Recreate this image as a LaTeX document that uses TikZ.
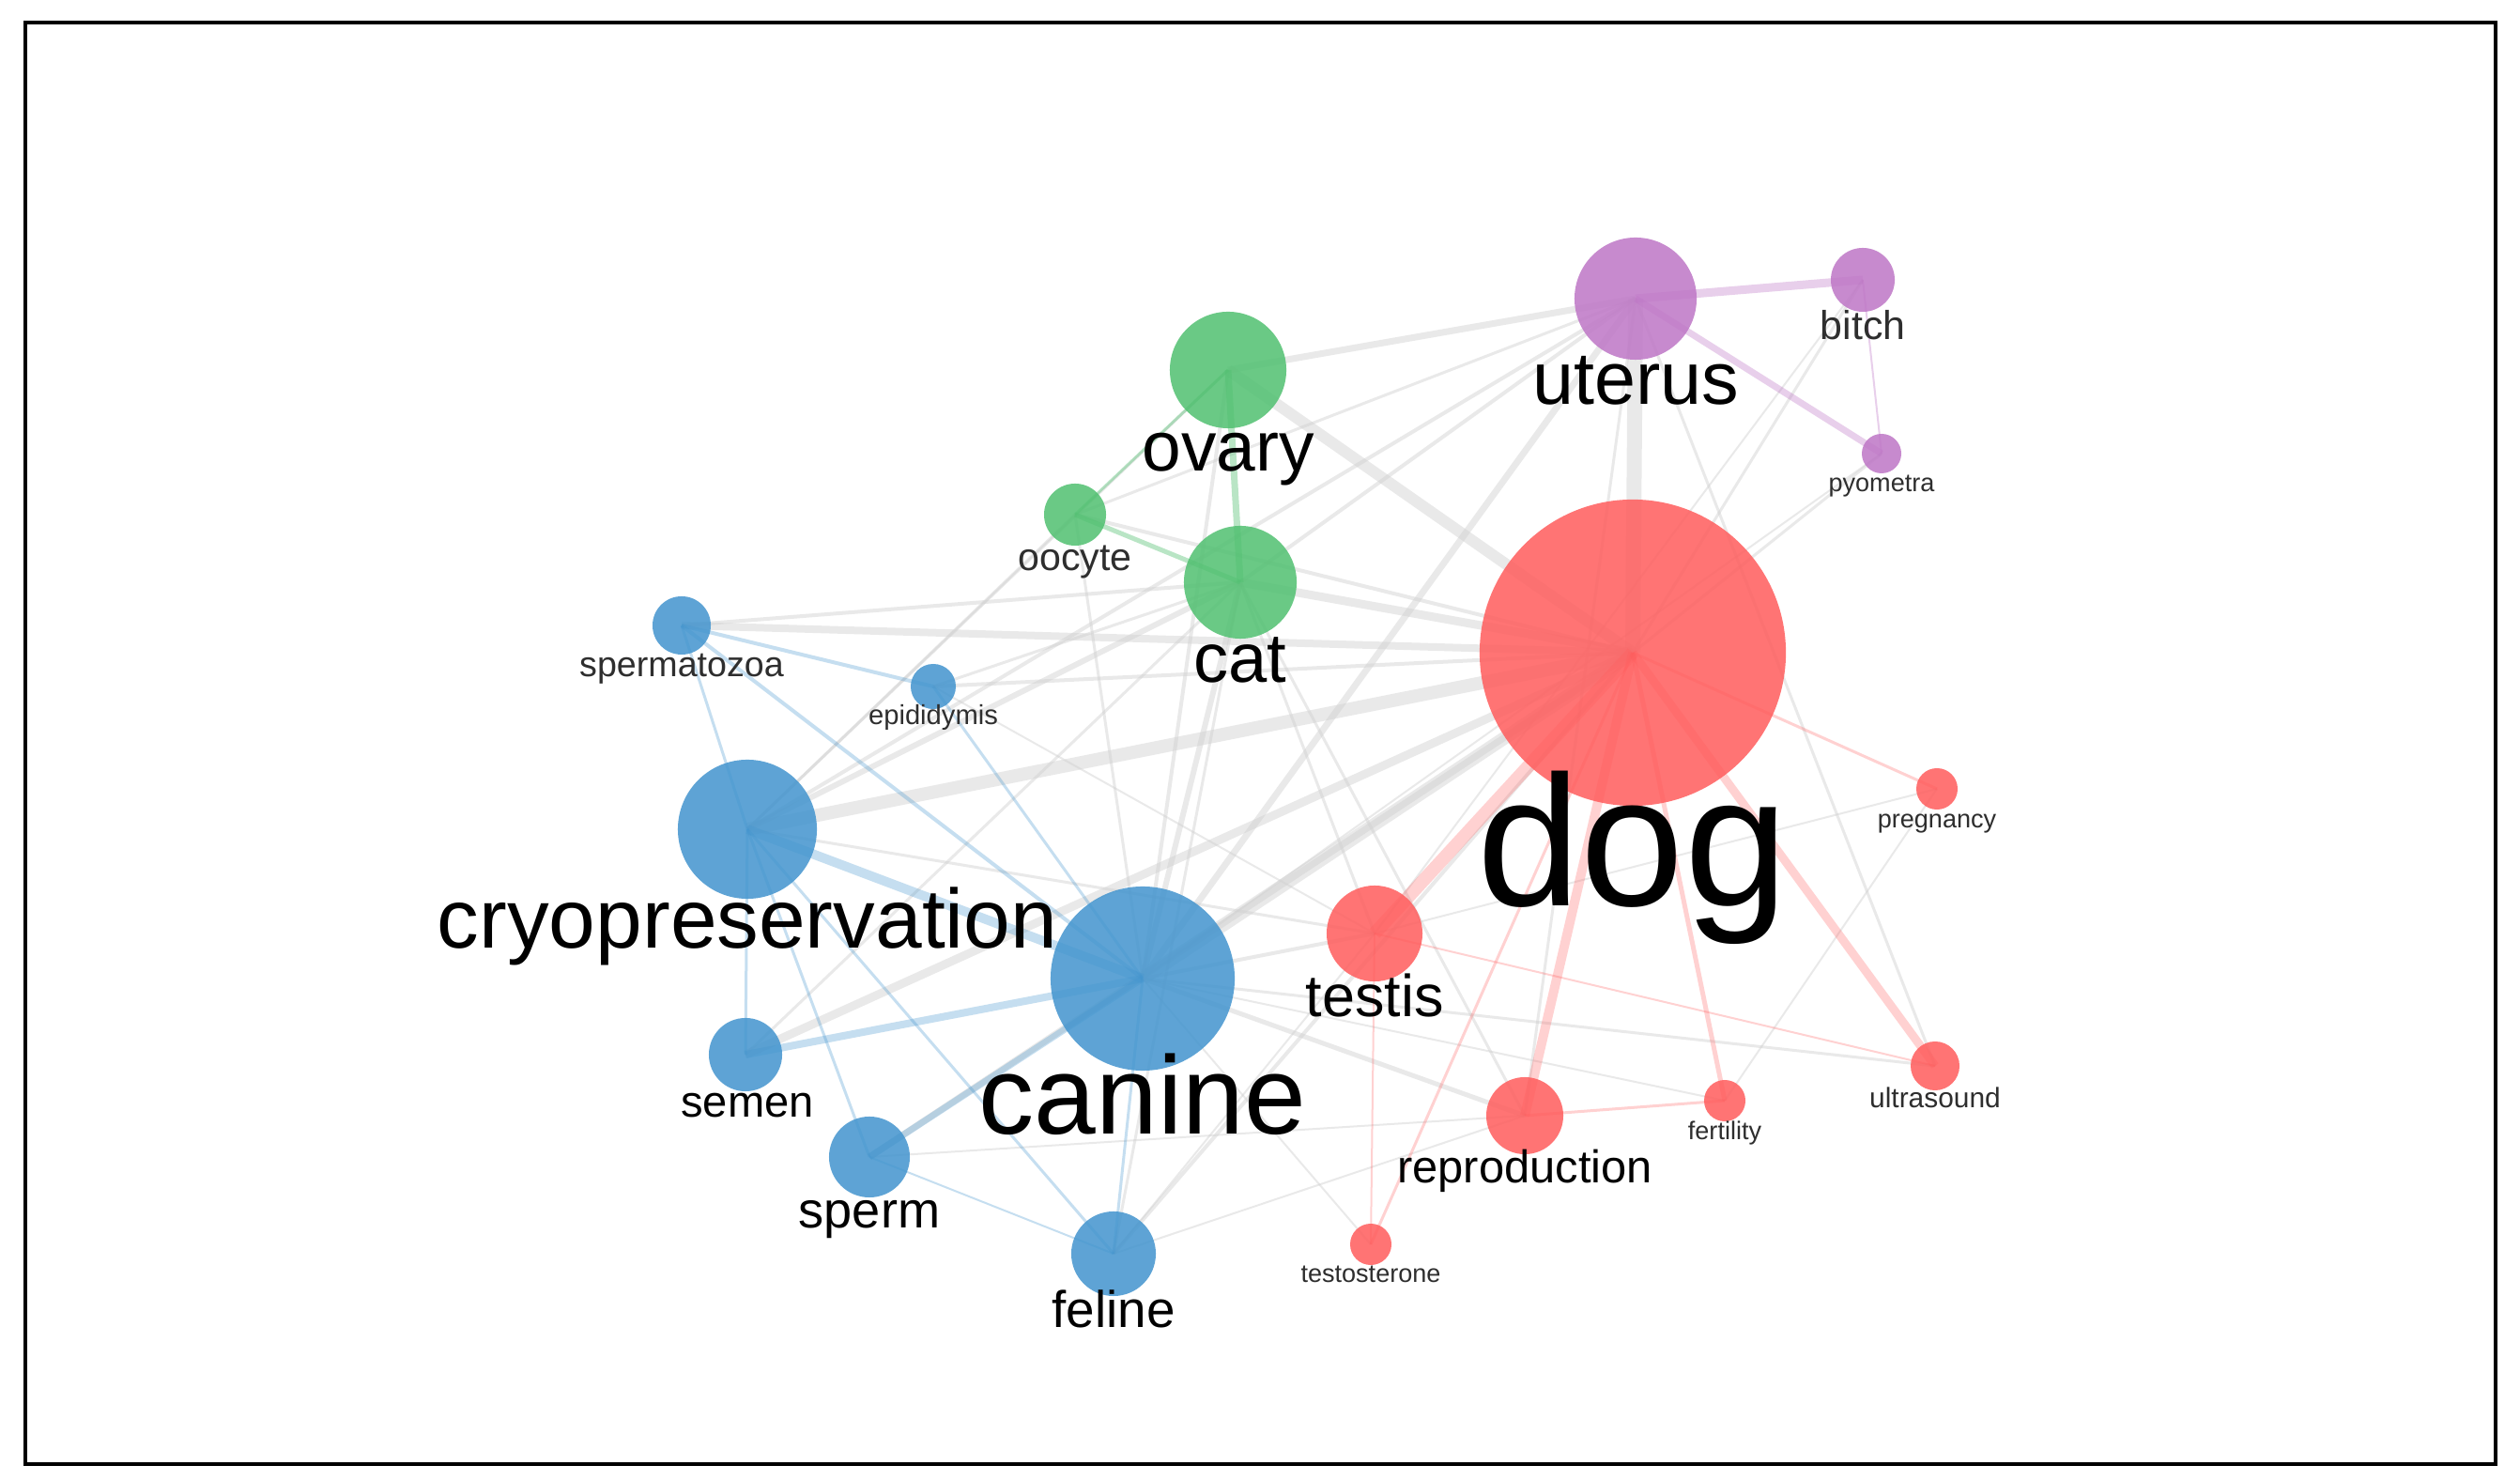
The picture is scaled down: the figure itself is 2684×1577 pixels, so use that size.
\documentclass[tikz,border=0pt]{standalone}
\usepackage{fontspec}
\setmainfont{Liberation Sans}
\pgfdeclarelayer{bg}
\pgfdeclarelayer{edges}
\pgfsetlayers{bg,edges,main}
\definecolor{cred}{RGB}{255,92,92}
\definecolor{cblue}{RGB}{66,148,206}
\definecolor{cgreen}{RGB}{80,192,112}
\definecolor{cpurple}{RGB}{190,118,198}
\definecolor{cgray}{RGB}{208,208,208}
\tikzset{
  kw/.style={circle, inner sep=0pt, draw=none, fill opacity=0.85, minimum size=#1},
  kred/.style={kw=#1, fill=cred},
  kblue/.style={kw=#1, fill=cblue},
  kgreen/.style={kw=#1, fill=cgreen},
  kpurple/.style={kw=#1, fill=cpurple},
  lbl/.style={anchor=base, inner sep=0pt, text=black},
  slbl/.style={anchor=base, inner sep=0pt, text=black!82},
  gE/.style={draw=cgray, draw opacity=0.45, line width={#1*0.2845pt}},
  bE/.style={draw=cblue, draw opacity=0.30, line width={#1*0.2845pt}},
  rE/.style={draw=cred, draw opacity=0.28, line width={#1*0.2845pt}},
  grE/.style={draw=cgreen, draw opacity=0.40, line width={#1*0.2845pt}},
  pE/.style={draw=cpurple, draw opacity=0.35, line width={#1*0.2845pt}},
}
\begin{document}
\begin{tikzpicture}[x=0.01cm, y=-0.01cm]
\begin{pgfonlayer}{bg}
\fill[white] (0,0) rectangle (2684,1577);
\end{pgfonlayer}
\useasboundingbox (0,0) rectangle (2684,1577);
\draw[line width=1.1pt] (27,24) rectangle (2658,1559);

% nodes
\node[kred=3.26cm] (dog) at (1739,695) {};
\node[kpurple=1.30cm] (uterus) at (1742,318) {};
\node[kpurple=0.68cm] (bitch) at (1984,298) {};
\node[kpurple=0.42cm] (pyometra) at (2004,483) {};
\node[kgreen=1.24cm] (ovary) at (1308,394) {};
\node[kgreen=1.20cm] (cat) at (1321,620) {};
\node[kgreen=0.66cm] (oocyte) at (1145,548) {};
\node[kblue=0.62cm] (spermatozoa) at (726,666) {};
\node[kblue=0.48cm] (epididymis) at (994,731) {};
\node[kblue=1.48cm] (cryo) at (796,883) {};
\node[kblue=1.96cm] (canine) at (1217,1042) {};
\node[kblue=0.78cm] (semen) at (794,1123) {};
\node[kblue=0.86cm] (sperm) at (926,1232) {};
\node[kblue=0.90cm] (feline) at (1186,1335) {};
\node[kred=1.02cm] (testis) at (1464,994) {};
\node[kred=0.82cm] (reproduction) at (1624,1188) {};
\node[kred=0.44cm] (testosterone) at (1460,1325) {};
\node[kred=0.44cm] (fertility) at (1837,1172) {};
\node[kred=0.52cm] (ultrasound) at (2061,1135) {};
\node[kred=0.44cm] (pregnancy) at (2063,840) {};

% edges
\begin{pgfonlayer}{edges}
% gray cross-cluster
\draw[gE=16] (dog.center) -- (uterus.center);
\draw[gE=14] (dog.center) -- (cryo.center);
\draw[gE=14] (dog.center) -- (canine.center);
\draw[gE=12] (dog.center) -- (ovary.center);
\draw[gE=9] (dog.center) -- (cat.center);
\draw[gE=8] (dog.center) -- (spermatozoa.center);
\draw[gE=9] (dog.center) -- (semen.center);
\draw[gE=7] (dog.center) -- (sperm.center);
\draw[gE=4] (dog.center) -- (feline.center);
\draw[gE=4] (dog.center) -- (epididymis.center);
\draw[gE=4] (dog.center) -- (oocyte.center);
\draw[gE=3] (dog.center) -- (bitch.center);
\draw[gE=3] (dog.center) -- (pyometra.center);
\draw[gE=7] (canine.center) -- (uterus.center);
\draw[gE=6] (canine.center) -- (cat.center);
\draw[gE=4] (canine.center) -- (ovary.center);
\draw[gE=4] (canine.center) -- (testis.center);
\draw[gE=5] (canine.center) -- (reproduction.center);
\draw[gE=3] (canine.center) -- (ultrasound.center);
\draw[gE=2] (canine.center) -- (fertility.center);
\draw[gE=2] (canine.center) -- (testosterone.center);
\draw[gE=2] (canine.center) -- (pyometra.center);
\draw[gE=6] (cryo.center) -- (cat.center);
\draw[gE=4] (cryo.center) -- (uterus.center);
\draw[gE=3] (cryo.center) -- (ovary.center);
\draw[gE=3] (cryo.center) -- (testis.center);
\draw[gE=3] (cryo.center) -- (oocyte.center);
\draw[gE=7] (uterus.center) -- (ovary.center);
\draw[gE=3] (uterus.center) -- (oocyte.center);
\draw[gE=4] (uterus.center) -- (cat.center);
\draw[gE=3] (uterus.center) -- (ultrasound.center);
\draw[gE=3] (uterus.center) -- (reproduction.center);
\draw[gE=4] (spermatozoa.center) -- (cat.center);
\draw[gE=3] (epididymis.center) -- (cat.center);
\draw[gE=2] (epididymis.center) -- (testis.center);
\draw[gE=3] (oocyte.center) -- (canine.center);
\draw[gE=3] (feline.center) -- (cat.center);
\draw[gE=2] (feline.center) -- (testis.center);
\draw[gE=2] (feline.center) -- (reproduction.center);
\draw[gE=2] (sperm.center) -- (reproduction.center);
\draw[gE=3] (semen.center) -- (cat.center);
\draw[gE=3] (cat.center) -- (testis.center);
\draw[gE=3] (cat.center) -- (reproduction.center);
\draw[gE=2] (bitch.center) -- (testis.center);
\draw[gE=2] (pregnancy.center) -- (testis.center);
\draw[gE=2] (pregnancy.center) -- (fertility.center);
% blue
\draw[bE=10] (cryo.center) -- (canine.center);
\draw[bE=8] (canine.center) -- (semen.center);
\draw[bE=7] (canine.center) -- (sperm.center);
\draw[bE=4] (canine.center) -- (spermatozoa.center);
\draw[bE=3] (canine.center) -- (feline.center);
\draw[bE=3] (canine.center) -- (epididymis.center);
\draw[bE=3] (cryo.center) -- (spermatozoa.center);
\draw[bE=3] (cryo.center) -- (semen.center);
\draw[bE=3] (cryo.center) -- (sperm.center);
\draw[bE=3] (cryo.center) -- (feline.center);
\draw[bE=4] (spermatozoa.center) -- (epididymis.center);
\draw[bE=2] (sperm.center) -- (feline.center);
% green
\draw[grE=7] (ovary.center) -- (cat.center);
\draw[grE=3] (ovary.center) -- (oocyte.center);
\draw[grE=5] (oocyte.center) -- (cat.center);
% purple
\draw[pE=9] (uterus.center) -- (bitch.center);
\draw[pE=7] (uterus.center) -- (pyometra.center);
\draw[pE=2] (bitch.center) -- (pyometra.center);
% red
\draw[rE=14] (dog.center) -- (testis.center);
\draw[rE=10] (dog.center) -- (reproduction.center);
\draw[rE=9] (dog.center) -- (ultrasound.center);
\draw[rE=5] (dog.center) -- (fertility.center);
\draw[rE=3] (dog.center) -- (pregnancy.center);
\draw[rE=3] (dog.center) -- (testosterone.center);
\draw[rE=2] (testis.center) -- (testosterone.center);
\draw[rE=3] (reproduction.center) -- (fertility.center);
\draw[rE=2] (testis.center) -- (ultrasound.center);
\end{pgfonlayer}

% labels
\node[lbl, font=\fontsize{56.3pt}{56.3pt}\selectfont] (dogL) at (1739,965) {dog};
\node[lbl, font=\fontsize{33.6pt}{33.6pt}\selectfont] (canineL) at (1217,1208) {canine};
\node[lbl, font=\fontsize{25.4pt}{25.4pt}\selectfont] (cryoL) at (796,1010) {cryopreservation};
\node[lbl, font=\fontsize{22.5pt}{22.5pt}\selectfont] (uterusL) at (1742,431) {uterus};
\node[lbl, font=\fontsize{21.3pt}{21.3pt}\selectfont] (ovaryL) at (1308,502) {ovary};
\node[lbl, font=\fontsize{21.1pt}{21.1pt}\selectfont] (catL) at (1321,727) {cat};
\node[lbl, font=\fontsize{17.9pt}{17.9pt}\selectfont] (testisL) at (1464,1083) {testis};
\node[lbl, font=\fontsize{13.9pt}{13.9pt}\selectfont] (reproductionL) at (1624,1260) {reproduction};
\node[lbl, font=\fontsize{13.4pt}{13.4pt}\selectfont] (semenL) at (796,1190) {semen};
\node[lbl, font=\fontsize{15.4pt}{15.4pt}\selectfont] (spermL) at (926,1308) {sperm};
\node[lbl, font=\fontsize{15.6pt}{15.6pt}\selectfont] (felineL) at (1186,1414) {feline};
\node[slbl, font=\fontsize{12.2pt}{12.2pt}\selectfont] (bitchL) at (1984,362) {bitch};
\node[slbl, font=\fontsize{11.7pt}{11.7pt}\selectfont] (oocyteL) at (1145,608) {oocyte};
\node[slbl, font=\fontsize{10.7pt}{10.7pt}\selectfont] (spermatozoaL) at (726,721) {spermatozoa};
\node[slbl, font=\fontsize{8.3pt}{8.3pt}\selectfont] (epididymisL) at (994,772) {epididymis};
\node[slbl, font=\fontsize{7.7pt}{7.7pt}\selectfont] (pyometraL) at (2004,524) {pyometra};
\node[slbl, font=\fontsize{7.7pt}{7.7pt}\selectfont] (pregnancyL) at (2063,882) {pregnancy};
\node[slbl, font=\fontsize{8.5pt}{8.5pt}\selectfont] (ultrasoundL) at (2061,1180) {ultrasound};
\node[slbl, font=\fontsize{7.7pt}{7.7pt}\selectfont] (fertilityL) at (1837,1214) {fertility};
\node[slbl, font=\fontsize{7.7pt}{7.7pt}\selectfont] (testosteroneL) at (1460,1366) {testosterone};
\end{tikzpicture}
\end{document}
